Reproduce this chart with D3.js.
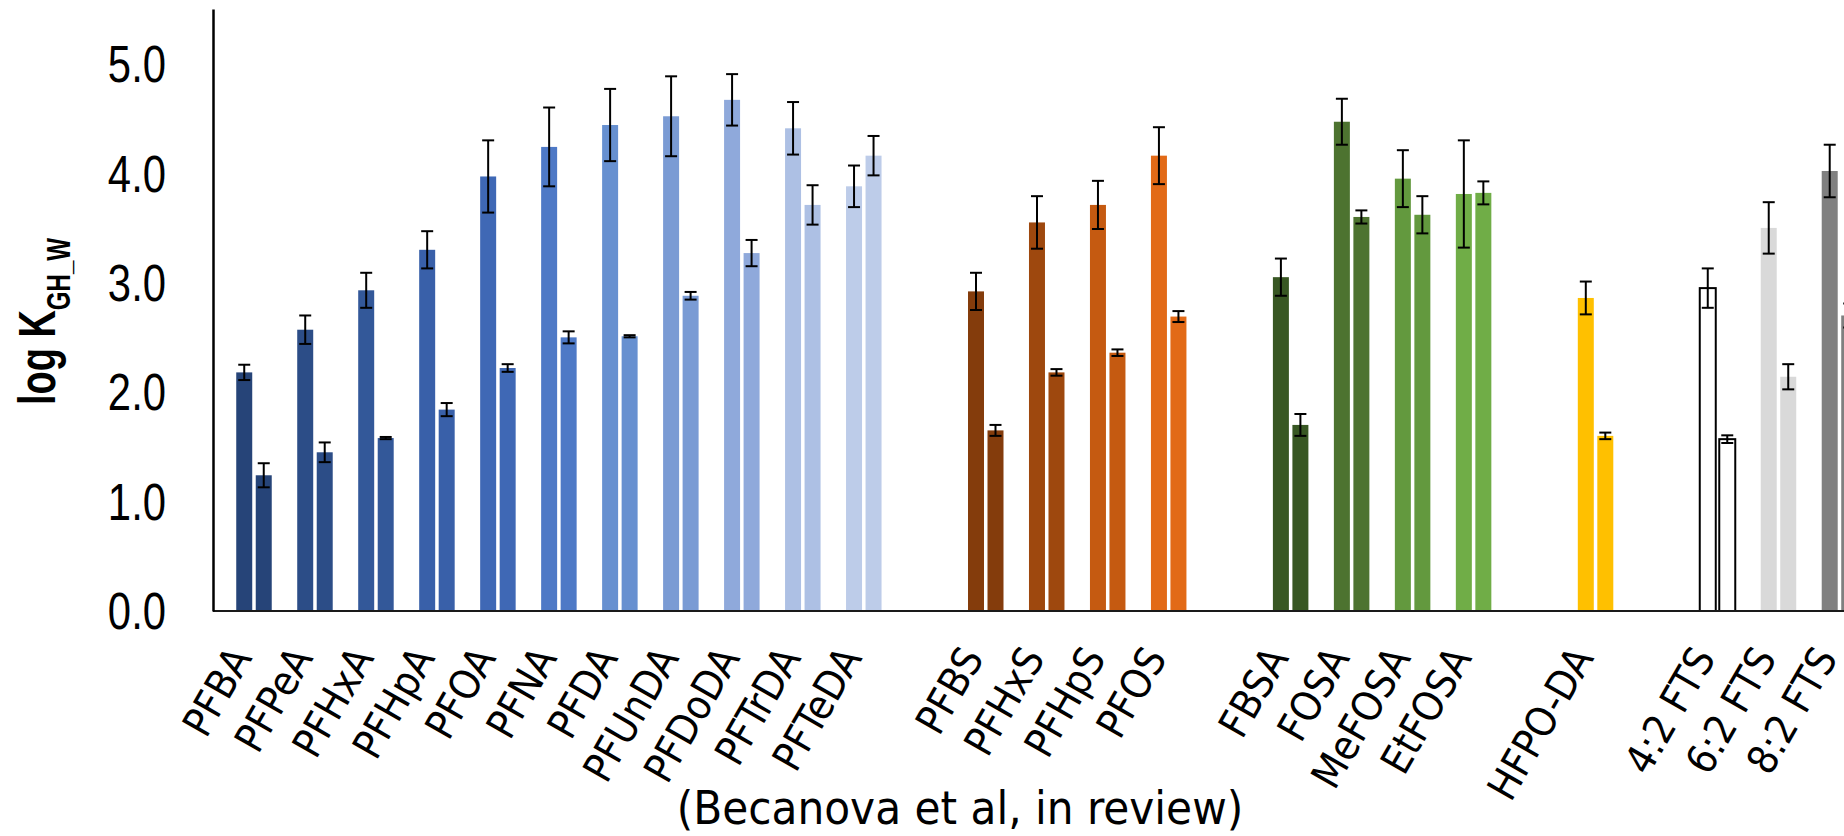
<!DOCTYPE html>
<html>
<head>
<meta charset="utf-8">
<script src="https://cdn.jsdelivr.net/npm/d3@7"></script>
<style>
  html, body { margin: 0; padding: 0; background: #fff; }
  svg { display: block; }
  .tick text { font-family: 'Liberation Sans Narrow', 'Arial Narrow', 'Liberation Sans'; }
  .cat { font-family: 'DejaVu Sans Condensed', 'DejaVu Sans'; font-stretch: condensed; }
</style>
</head>
<body>
<svg id="chart" width="1844" height="836"></svg>
<script>
// compounds, grouped; an empty slot sits between groups
const groups = [
  ['PFBA', 'PFPeA', 'PFHxA', 'PFHpA', 'PFOA', 'PFNA', 'PFDA', 'PFUnDA', 'PFDoDA', 'PFTrDA', 'PFTeDA'],
  ['PFBS', 'PFHxS', 'PFHpS', 'PFOS'],
  ['FBSA', 'FOSA', 'MeFOSA', 'EtFOSA'],
  ['HFPO-DA'],
  ['4:2 FTS', '6:2 FTS', '8:2 FTS'],
];
const categories = groups.flat();

// first bar / second bar of each compound, with error half-widths
const value1 = [2.18, 2.57, 2.93, 3.30, 3.97, 4.24, 4.44, 4.52, 4.67, 4.41, 3.88,
  2.92, 3.55, 3.71, 4.16,
  3.05, 4.47, 3.95, 3.81,
  2.86,
  2.95, 3.50, 4.02];
const err1 = [0.07, 0.13, 0.16, 0.17, 0.33, 0.36, 0.33, 0.365, 0.235, 0.24, 0.19,
  0.17, 0.24, 0.22, 0.26,
  0.17, 0.21, 0.26, 0.49,
  0.15,
  0.18, 0.235, 0.24];
const value2 = [1.24, 1.45, 1.58, 1.84, 2.22, 2.50, 2.51, 2.88, 3.27, 3.71, 4.16,
  1.65, 2.18, 2.36, 2.69,
  1.70, 3.60, 3.62, 3.82,
  1.60,
  1.57, 2.14, 2.70];
const err2 = [0.11, 0.09, 0.01, 0.06, 0.035, 0.055, 0.01, 0.035, 0.12, 0.18, 0.18,
  0.05, 0.03, 0.03, 0.05,
  0.10, 0.06, 0.17, 0.105,
  0.03,
  0.035, 0.115, 0.11];

const colors = ['#264478', '#2c4d87', '#335899', '#3960a9', '#3f68b5', '#4e79c6',
  '#6790d0', '#7a9bd4', '#8fa9db', '#adc0e4', '#bdcce9',
  '#843c0c', '#9e480e', '#c55a11', '#e26a17',
  '#385723', '#4d7330', '#63993e', '#70ad47',
  '#ffc000',
  '#ffffff', '#d9d9d9', '#808080'];

const yTicks = [0, 1, 2, 3, 4, 5];

// slot list with spacers
const slots = [];
groups.forEach((g, i) => {
  if (i > 0) slots.push('gap' + i);
  g.forEach(c => slots.push(c));
});

const svg = d3.select('#chart');
const W = 1844, H = 836;
const axisX = 213, axisTop = 9, axisBottom = 611;
const narrow = 0.82; // the source uses a narrow face

const x = d3.scaleBand()
  .domain(slots)
  .range([223.5, 223.5 + slots.length * 60.98])
  .padding(0);

const inner = d3.scaleBand()
  .domain(['a', 'b'])
  .range([-17.75, 17.75])
  .paddingInner(0.18)
  .paddingOuter(0);

const y = d3.scaleLinear().domain([0, 5.5]).range([axisBottom, axisTop]);

const rows = categories.map((c, i) => ({
  name: c, color: colors[i],
  bars: [
    { k: 'a', v: value1[i], e: err1[i] },
    { k: 'b', v: value2[i], e: err2[i] },
  ],
}));

const cx = d => x(d) + x.bandwidth() / 2;

const g = svg.append('g');

const cat = g.selectAll('g.cat-g')
  .data(rows)
  .join('g')
  .attr('class', 'cat-g')
  .attr('transform', d => `translate(${cx(d.name)},0)`);

cat.selectAll('rect')
  .data(d => d.bars.map(b => ({ ...b, color: d.color, name: d.name })))
  .join('rect')
  .attr('x', b => inner(b.k))
  .attr('width', inner.bandwidth())
  .attr('y', b => y(b.v))
  .attr('height', b => y(0) - y(b.v))
  .attr('fill', b => b.color)
  .attr('stroke', b => b.name === '4:2 FTS' ? '#000' : 'none')
  .attr('stroke-width', 2);

// error bars
const capW = 12;
const eb = cat.selectAll('g.err')
  .data(d => d.bars)
  .join('g')
  .attr('class', 'err')
  .attr('transform', b => `translate(${inner(b.k) + inner.bandwidth() / 2},0)`)
  .attr('stroke', '#000')
  .attr('stroke-width', 2);

eb.append('line')
  .attr('x1', 0).attr('x2', 0)
  .attr('y1', b => y(b.v + b.e))
  .attr('y2', b => y(b.v - b.e));
eb.append('line')
  .attr('x1', -capW / 2).attr('x2', capW / 2)
  .attr('y1', b => y(b.v + b.e)).attr('y2', b => y(b.v + b.e));
eb.append('line')
  .attr('x1', -capW / 2).attr('x2', capW / 2)
  .attr('y1', b => y(b.v - b.e)).attr('y2', b => y(b.v - b.e));

// x axis line
svg.append('line')
  .attr('x1', axisX).attr('x2', W)
  .attr('y1', y(0)).attr('y2', y(0))
  .attr('stroke', '#1a1a1a')
  .attr('stroke-width', 2);

// y axis
const yAxis = svg.append('g')
  .attr('transform', `translate(${axisX},0)`)
  .call(d3.axisLeft(y).tickValues(yTicks).tickFormat(d3.format('.1f'))
    .tickSize(0).tickSizeOuter(0).tickPadding(47));
yAxis.select('.domain').attr('stroke', '#000').attr('stroke-width', 2.5);
yAxis.selectAll('.tick text')
  .attr('font-size', 51)
  .attr('fill', '#000')
  .attr('dy', '0.35em')
  .attr('x', -47 / narrow)
  .attr('transform', `scale(${narrow},1)`);

// y title
const yt = svg.append('text')
  .attr('transform', 'translate(55,321.5) rotate(-90) scale(0.73,1)')
  .attr('text-anchor', 'middle')
  .attr('font-family', "'Liberation Sans Narrow', 'Arial Narrow', 'Liberation Sans'")
  .attr('font-weight', 'bold')
  .attr('fill', '#000');
yt.append('tspan').attr('font-size', 52).text('log K');
yt.append('tspan').attr('font-size', 33).attr('dy', 15).text('GH_W');

// category labels
svg.append('g')
  .selectAll('text')
  .data(categories)
  .join('text')
  .attr('class', 'cat')
  .attr('text-anchor', 'end')
  .attr('font-size', 41)
  .attr('fill', '#000')
  .attr('transform', d => `translate(${cx(d) - 1},658) rotate(-60)`)
  .text(d => d);

// source note
svg.append('text')
  .attr('class', 'cat')
  .attr('x', 960)
  .attr('y', 824)
  .attr('text-anchor', 'middle')
  .attr('font-size', 47)
  .attr('fill', '#000')
  .text('(Becanova et al, in review)');
</script>
</body>
</html>
